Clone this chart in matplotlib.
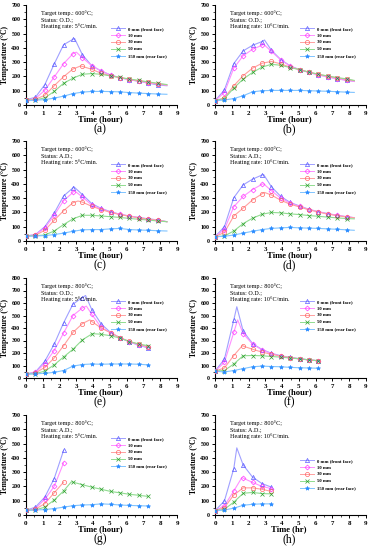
import numpy as np
import matplotlib
matplotlib.use("Agg")
import matplotlib.pyplot as plt
from matplotlib.ticker import MultipleLocator

plt.rcParams['font.family'] = ['Liberation Serif', 'DejaVu Serif']

labels = ["0 mm (front face)", "10 mm", "30 mm", "50 mm", "150 mm (rear face)"]
markers = ["^", "D", "o", "x", "*"]
mk_colors = ["#5a5aff", "#ff3cff", "#ff6464", "#2ea02e", "#2b8cff"]
ln_colors = ["#a0a0ff", "#ff90ff", "#ffa0a0", "#90dc90", "#80c4ff"]

# marker times (hour)
t_a = [0, 0.56, 1.12, 1.68, 2.24, 2.8, 3.36, 3.92, 4.48, 5.04, 5.6, 6.16, 6.72, 7.28, 7.84]

# (a) 600C O.D. 5C/min
a_vals = [
    [37, 54, 142, 287, 422, 460, 352, 275, 238, 210, 191, 177, 166, 154, 140],
    [35, 45, 103, 196, 289, 359, 331, 275, 238, 210, 190, 178, 166, 156, 145],
    [33, 40, 68, 135, 198, 252, 270, 250, 222, 205, 192, 180, 170, 160, 150],
    [32, 35, 50, 95, 152, 188, 215, 220, 215, 203, 193, 182, 172, 162, 152],
    [30, 33, 38, 48, 62, 80, 90, 95, 95, 94, 92, 87, 83, 80, 77],
]
a_peak = [(2.9, 465), (3.0, 370), (3.25, 273), None, None]
a_tail = (8.4, [135, 138, 140, 143, 75])

# (b) 600C O.D. 10C/min
b_vals = [
    [30, 105, 290, 379, 418, 444, 384, 318, 274, 247, 228, 212, 198, 184, 174],
    [30, 87, 258, 345, 390, 418, 375, 316, 272, 247, 228, 210, 196, 183, 172],
    [30, 50, 135, 205, 258, 292, 305, 288, 265, 248, 230, 215, 202, 190, 180],
    [30, 45, 118, 182, 228, 265, 285, 278, 262, 248, 230, 215, 203, 192, 183],
    [30, 35, 45, 65, 92, 100, 102, 102, 102, 102, 100, 98, 96, 93, 90],
]
b_peak = [(2.95, 455), (2.9, 425), None, None, None]
b_tail = (8.3, [165, 165, 170, 172, 88])

# (c) 600C A.D. 5C/min
c_vals = [
    [35, 45, 100, 195, 315, 372, 325, 262, 228, 205, 187, 175, 165, 155, 148],
    [35, 45, 90, 180, 282, 340, 308, 252, 225, 203, 187, 175, 163, 155, 146],
    [35, 40, 75, 145, 212, 268, 272, 243, 220, 200, 185, 173, 162, 153, 145],
    [35, 37, 42, 70, 115, 155, 180, 180, 175, 170, 165, 158, 152, 147, 140],
    [33, 35, 38, 45, 55, 68, 78, 80, 80, 85, 88, 80, 77, 75, 72],
]
c_peak = [(2.85, 380), (2.85, 355), (3.1, 280), None, None]
c_tail = (8.4, [135, 135, 135, 135, 70])

# (d) 600C A.D. 10C/min
d_vals = [
    [30, 100, 303, 393, 433, 462, 380, 312, 270, 245, 222, 205, 192, 180, 170],
    [30, 80, 240, 312, 360, 397, 352, 300, 265, 243, 220, 205, 190, 180, 170],
    [30, 60, 175, 230, 288, 330, 322, 285, 258, 238, 218, 203, 188, 178, 168],
    [30, 35, 70, 122, 160, 187, 200, 197, 190, 185, 178, 173, 167, 162, 157],
    [30, 33, 42, 55, 68, 80, 88, 92, 95, 92, 90, 88, 85, 82, 78],
]
d_peak = [(2.9, 465), (2.9, 400), (2.95, 340), None, None]
d_tail = (8.3, [163, 163, 163, 155, 75])

# (e) 800C O.D. 5C/min
e_vals = [
    [32, 48, 134, 270, 441, 591, 644, 548, 433, 364, 321, 289, 262, 241],
    [32, 45, 115, 220, 360, 500, 560, 510, 405, 362, 323, 290, 265, 245],
    [32, 40, 85, 160, 258, 365, 435, 452, 400, 362, 322, 293, 270, 250],
    [32, 35, 55, 105, 168, 230, 305, 352, 350, 338, 320, 292, 272, 258],
    [32, 33, 38, 45, 60, 95, 108, 112, 110, 112, 112, 112, 110, 105],
]
e_peak = [(3.55, 660), (3.6, 575), (3.8, 465), (3.95, 355), None]

# (f) 800C O.D. 10C/min
f_vals = [
    [55, 150, 465, 375, 275, 228, 198, 178, 165, 155, 145, 138],
    [55, 125, 365, 355, 270, 225, 195, 175, 163, 153, 145, 138],
    [55, 80, 180, 255, 230, 207, 190, 175, 163, 153, 145, 138],
    [55, 60, 112, 178, 180, 178, 172, 167, 160, 153, 145, 138],
    [55, 48, 60, 75, 90, 95, 92, 90, 85, 82, 80, 78],
]
f_peak = [(1.3, 570), (1.35, 465), (1.65, 262), None, None]

# (g) 800C A.D. 5C/min
g_vals = [
    [33, 55, 125, 255, 452],
    [33, 45, 110, 200, 365],
    [33, 40, 80, 155, 230],
    [33, 35, 55, 105, 168, 230, 212, 195, 180, 165, 155, 145, 138, 130],
    [33, 35, 38, 45, 55, 65, 70, 72, 78, 75, 70, 67, 65, 63],
]
g_peak = [None, None, None, (2.7, 232), None]

# (h) 800C A.D. 10C/min
h_vals = [
    [30, 98, 325, 350, 265, 220, 195],
    [30, 65, 168, 258, 228, 200, 185],
    [30, 52, 140, 190, 190, 180, 165],
    [30, 40, 90, 152, 158, 150, 148],
    [30, 35, 48, 68, 75, 78, 78],
]
h_peak = [(1.3, 470), (1.6, 262), None, None, None]

panels = [
    ("(a)", "600", "O.D.", "5", a_vals, a_peak, a_tail, 700, "Time (hour)"),
    ("(b)", "600", "O.D.", "10", b_vals, b_peak, b_tail, 700, "Time (hour)"),
    ("(c)", "600", "A.D.", "5", c_vals, c_peak, c_tail, 700, "Time (hour)"),
    ("(d)", "600", "A.D.", "10", d_vals, d_peak, d_tail, 700, "Time (hour)"),
    ("(e)", "800", "O.D.", "5", e_vals, e_peak, None, 800, "Time (hour)"),
    ("(f)", "800", "O.D.", "10", f_vals, f_peak, None, 800, "Time (hour)"),
    ("(g)", "800", "A.D.", "5", g_vals, g_peak, None, 700, "Time (hour)"),
    ("(h)", "800", "A.D.", "10", h_vals, h_peak, None, 700, "Time (hr)"),
]

fig = plt.figure(figsize=(3.71, 5.50), dpi=100)
lefts = [26 / 371, 215 / 371]
bottoms = [1 - 105 / 550, 1 - 241 / 550, 1 - 378 / 550, 1 - 515 / 550]
w, h = 151 / 371, 100 / 550

for i, (tag, temp, status, rate, vals, peak, tail, ymax, xlab) in enumerate(panels):
    ax = fig.add_axes([lefts[i % 2], bottoms[i // 2], w, h])
    for k in range(5):
        y = vals[k]
        x = t_a[:len(y)]
        lx, ly = list(x), list(y)
        if peak[k] is not None:
            pt, pv = peak[k]
            j = np.searchsorted(lx, pt)
            lx.insert(j, pt)
            ly.insert(j, pv)
        if tail is not None:
            lx.append(tail[0])
            ly.append(tail[1][k])
        ax.plot(lx, ly, color=ln_colors[k], lw=0.8, zorder=2)
        mfc = mk_colors[k] if markers[k] == "*" else "none"
        ms = 3.0 if markers[k] != "D" else 2.5
        ax.plot(x, y, ls="none", marker=markers[k], ms=ms, mec=mk_colors[k],
                mfc=mfc, mew=0.5, zorder=3)
        # legend proxy
        ax.plot([], [], color=ln_colors[k], lw=0.7, marker=markers[k], ms=ms,
                mec=mk_colors[k], mfc=mfc, mew=0.5, label=labels[k])

    ax.set_xlim(0, 9)
    ax.set_ylim(0, ymax)
    ax.xaxis.set_major_locator(MultipleLocator(1))
    ax.xaxis.set_minor_locator(MultipleLocator(0.5))
    ax.yaxis.set_major_locator(MultipleLocator(100))
    ax.yaxis.set_minor_locator(MultipleLocator(50))
    ax.spines["top"].set_visible(False)
    ax.spines["right"].set_visible(False)
    for s in ["left", "bottom"]:
        ax.spines[s].set_linewidth(0.8)
    ax.tick_params(which="major", direction="out", length=2.5, width=0.7, pad=1.5)
    ax.tick_params(which="minor", direction="out", length=1.3, width=0.5)
    ax.tick_params(axis="x", labelsize=5)
    ax.tick_params(axis="y", labelsize=4.3)
    for lb in ax.get_xticklabels() + ax.get_yticklabels():
        lb.set_fontweight("bold")

    ax.set_ylabel("Temperature (\u00b0C)", fontsize=5.5, fontweight="bold", labelpad=1.5)
    ax.text(0.49, -0.14, xlab, transform=ax.transAxes, ha="center", va="center",
            fontsize=6.2, fontweight="bold")
    ax.text(0.49, -0.24, tag, transform=ax.transAxes, ha="center", va="center",
            fontsize=8.5)

    note = ("Target temp.: %s\u00b0C;\nStatus: %s;\nHeating rate: %s\u00b0C/min."
            % (temp, status, rate))
    ax.text(0.10, 0.95, note, transform=ax.transAxes, ha="left", va="top",
            fontsize=4.4, linespacing=1.35)

    leg_y = 0.82 if tag != "(h)" else 0.60
    ax.legend(loc="upper left", bbox_to_anchor=(0.54, leg_y), frameon=False,
              prop={"size": 3.4, "weight": "bold"}, handlelength=3.0,
              handletextpad=0.6, labelspacing=0.55, borderpad=0.2)

fig.savefig("out.png", dpi=100)
